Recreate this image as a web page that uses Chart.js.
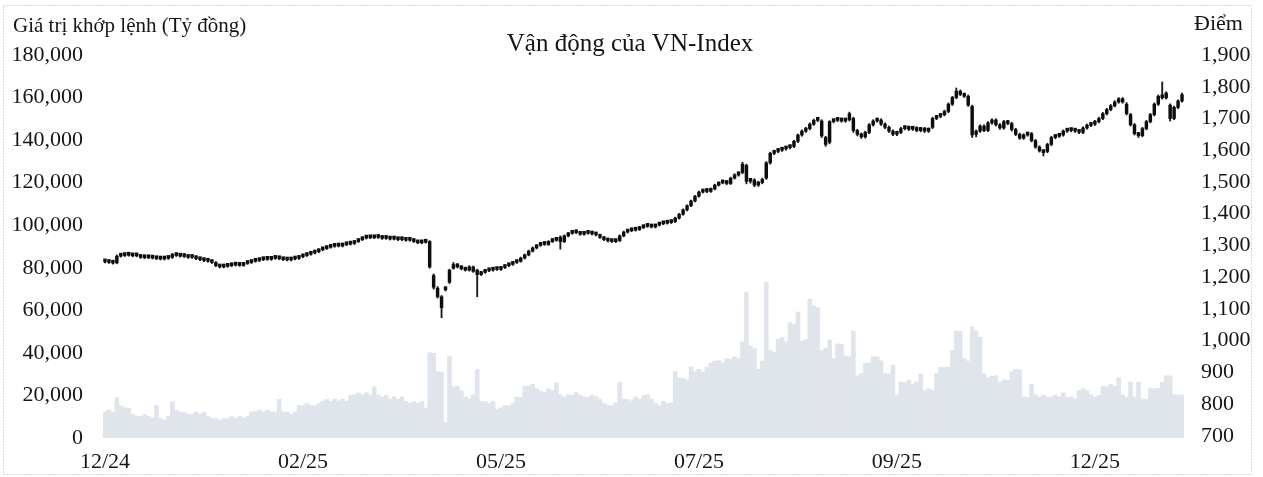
<!DOCTYPE html>
<html><head><meta charset="utf-8">
<script src="https://cdn.jsdelivr.net/npm/chart.js@4.4.1/dist/chart.umd.min.js"></script>
<style>html,body{margin:0;padding:0;background:#fff}#c{display:block}</style>
</head><body>
<canvas id="c" width="1263" height="477"></canvas>
<script>
const openP = [
1252,1248,1246,1245,1266,1268,1270,1269,1267,1268,
1262,1261,1263,1260,1258,1257,1259,1262,1272,1268,
1266,1265,1262,1264,1258,1255,1252,1250,1246,1236,
1232,1234,1236,1238,1240,1237,1243,1246,1250,1252,
1255,1258,1256,1259,1262,1258,1255,1254,1257,1259,
1264,1268,1272,1276,1280,1286,1290,1294,1297,1299,
1298,1302,1304,1306,1312,1318,1323,1326,1324,1328,
1325,1322,1324,1320,1322,1318,1320,1316,1318,1312,
1308,1310,1312,1205,1165,1138,1160,1184,1228,1240,
1232,1226,1222,1232,1222,1208,1215,1220,1222,1226,
1224,1230,1236,1240,1246,1250,1260,1270,1282,1292,
1300,1306,1303,1312,1318,1326,1312,1330,1338,1342,
1340,1335,1338,1340,1336,1333,1325,1318,1314,1312,
1315,1330,1342,1346,1348,1350,1356,1360,1362,1358,
1364,1368,1370,1372,1375,1386,1398,1412,1425,1440,
1455,1468,1474,1470,1478,1490,1497,1500,1495,1512,
1522,1530,1552,1502,1506,1490,1498,1512,1560,1590,
1596,1600,1604,1608,1612,1628,1648,1660,1668,1682,
1694,1692,1640,1625,1690,1694,1698,1692,1696,1700,
1662,1650,1642,1656,1680,1692,1695,1682,1672,1660,
1650,1656,1668,1672,1666,1670,1662,1668,1660,1672,
1700,1706,1712,1722,1745,1766,1786,1776,1770,1738,
1650,1660,1676,1662,1686,1695,1680,1670,1690,1684,
1665,1650,1638,1648,1652,1630,1610,1598,1596,1618,
1640,1644,1648,1660,1665,1662,1660,1656,1670,1678,
1682,1690,1700,1715,1728,1740,1752,1762,1745,1712,
1680,1652,1646,1668,1690,1712,1745,1770,1765,1742,
1700,1735,1755];
const highP = [
1255,1251,1249,1270,1271,1273,1273,1272,1271,1271,
1265,1266,1266,1263,1261,1262,1265,1275,1275,1271,
1269,1268,1267,1267,1261,1258,1255,1253,1249,1239,
1237,1239,1241,1243,1243,1246,1249,1253,1255,1258,
1261,1261,1262,1265,1265,1261,1258,1260,1262,1267,
1271,1275,1279,1283,1289,1293,1297,1300,1302,1302,
1305,1307,1309,1315,1321,1326,1329,1329,1331,1331,
1328,1327,1327,1325,1325,1323,1323,1321,1321,1315,
1313,1317,1315,1210,1170,1142,1170,1225,1246,1243,
1236,1230,1236,1235,1225,1218,1223,1225,1229,1229,
1233,1239,1243,1249,1253,1263,1273,1285,1295,1303,
1309,1309,1315,1321,1321,1330,1333,1341,1345,1345,
1343,1341,1343,1343,1339,1336,1328,1321,1317,1318,
1333,1345,1349,1351,1353,1359,1363,1365,1365,1367,
1371,1373,1375,1378,1389,1401,1415,1428,1443,1458,
1471,1477,1478,1481,1493,1500,1504,1504,1515,1526,
1532,1562,1556,1510,1510,1502,1512,1564,1594,1600,
1604,1608,1612,1616,1631,1651,1664,1672,1686,1698,
1704,1696,1644,1693,1698,1702,1701,1700,1720,1704,
1666,1654,1660,1684,1696,1699,1699,1686,1676,1664,
1660,1672,1676,1676,1674,1674,1672,1672,1670,1704,
1710,1716,1726,1749,1770,1796,1790,1780,1774,1742,
1664,1680,1680,1690,1699,1699,1684,1694,1694,1688,
1669,1654,1652,1656,1656,1634,1614,1602,1622,1644,
1648,1652,1664,1669,1669,1666,1664,1674,1682,1686,
1694,1704,1719,1732,1744,1756,1766,1766,1750,1716,
1684,1656,1672,1694,1716,1749,1774,1815,1784,1746,
1739,1759,1780];
const lowP = [
1245,1243,1241,1242,1263,1265,1266,1264,1264,1259,
1258,1258,1257,1255,1254,1254,1256,1259,1265,1263,
1262,1259,1259,1255,1252,1249,1247,1243,1233,1229,
1229,1231,1233,1235,1234,1234,1240,1243,1247,1249,
1252,1253,1253,1256,1255,1252,1251,1251,1254,1256,
1261,1265,1269,1273,1277,1283,1287,1291,1294,1295,
1295,1299,1301,1303,1309,1315,1320,1321,1321,1322,
1319,1319,1317,1317,1315,1315,1313,1313,1309,1305,
1305,1307,1228,1162,1134,1072,1156,1180,1225,1229,
1223,1219,1219,1215,1138,1205,1212,1217,1219,1221,
1221,1227,1233,1237,1243,1247,1257,1267,1279,1289,
1297,1300,1300,1309,1313,1288,1309,1327,1335,1337,
1332,1332,1335,1333,1330,1322,1315,1311,1309,1309,
1312,1327,1339,1343,1345,1347,1353,1357,1355,1355,
1361,1365,1367,1369,1372,1383,1395,1409,1422,1437,
1452,1465,1466,1467,1475,1487,1494,1491,1492,1509,
1518,1526,1494,1496,1485,1486,1494,1508,1556,1586,
1592,1596,1600,1604,1608,1624,1644,1656,1664,1678,
1690,1640,1612,1620,1686,1690,1688,1688,1692,1656,
1645,1637,1638,1652,1676,1688,1678,1668,1656,1646,
1646,1652,1664,1662,1662,1658,1658,1656,1656,1668,
1696,1702,1708,1718,1741,1762,1772,1766,1738,1640,
1642,1656,1658,1658,1682,1676,1666,1666,1680,1660,
1646,1634,1634,1644,1626,1606,1594,1582,1592,1614,
1636,1640,1644,1656,1658,1656,1652,1652,1666,1674,
1678,1686,1696,1711,1724,1736,1748,1748,1711,1676,
1648,1640,1642,1664,1686,1708,1741,1761,1761,1692,
1696,1731,1751];
const closeP = [
1248,1246,1244,1266,1268,1270,1269,1267,1268,1262,
1261,1263,1260,1258,1257,1259,1262,1272,1268,1266,
1265,1262,1264,1258,1255,1252,1250,1246,1236,1232,
1234,1236,1238,1240,1237,1243,1246,1250,1252,1255,
1258,1256,1259,1262,1258,1255,1254,1257,1259,1264,
1268,1272,1276,1280,1286,1290,1294,1297,1299,1298,
1302,1304,1306,1312,1318,1323,1326,1324,1328,1325,
1322,1324,1320,1322,1318,1320,1316,1318,1312,1308,
1310,1314,1232,1168,1138,1104,1166,1222,1240,1232,
1226,1222,1232,1218,1208,1215,1220,1222,1226,1224,
1230,1236,1240,1246,1250,1260,1270,1282,1292,1300,
1306,1303,1312,1318,1316,1312,1330,1338,1342,1340,
1335,1338,1340,1336,1333,1325,1318,1314,1312,1315,
1330,1342,1346,1348,1350,1356,1360,1362,1358,1364,
1368,1370,1372,1375,1386,1398,1412,1425,1440,1455,
1468,1474,1470,1478,1490,1497,1500,1495,1512,1522,
1528,1556,1502,1506,1490,1498,1508,1560,1590,1596,
1600,1604,1608,1612,1628,1648,1660,1668,1682,1694,
1700,1645,1618,1690,1694,1698,1692,1696,1715,1662,
1650,1642,1656,1680,1692,1695,1682,1672,1660,1650,
1656,1668,1672,1666,1670,1662,1668,1660,1666,1700,
1706,1712,1722,1745,1766,1786,1776,1770,1742,1648,
1660,1676,1662,1686,1695,1680,1670,1690,1684,1665,
1650,1638,1648,1652,1630,1610,1598,1592,1618,1640,
1644,1648,1660,1665,1662,1660,1656,1670,1678,1682,
1690,1700,1715,1728,1740,1752,1762,1752,1715,1680,
1652,1646,1668,1690,1712,1745,1770,1765,1780,1700,
1735,1755,1775];
const volume = [
12400,13100,12200,19000,15200,14300,14000,11200,10300,10100,
11000,10200,9400,15300,9100,8400,10200,17000,13100,12200,
12000,11300,11100,12200,11300,12100,10200,9300,9100,8400,
9200,9100,10100,9300,10200,9400,10300,12200,12400,13100,
12300,13200,12400,12100,18200,12300,12100,11200,12300,15400,
15200,16300,15400,15100,16200,17300,18100,17200,18300,17400,
18200,17300,20100,20300,21200,20400,21300,20200,24100,20300,
19200,20100,18300,19400,18200,19300,17200,16400,17100,16300,
17200,14100,40100,39800,31200,31000,7200,38300,24100,24300,
22200,19300,18400,20300,32200,17300,17100,16200,17300,13400,
14200,15300,15100,16200,19300,19100,24200,24400,25300,23200,
22100,21300,23200,22400,26100,20300,19200,20400,20100,21300,
20200,19300,19100,20200,19400,18300,16200,15300,15100,16400,
26200,18300,18100,17400,19200,18300,20100,20400,18200,16300,
15200,17300,16200,16400,31200,28300,28100,27300,33400,31200,
32300,31100,33200,35300,36100,36400,35200,37300,37100,38200,
37300,45200,68400,43200,42100,32300,36200,73200,41300,40200,
46300,47200,45300,54200,53300,59200,45400,46200,65300,62100,
61300,41200,42300,46100,37300,44200,44100,38300,38200,50300,
29200,30300,35100,35300,38200,38100,36300,30200,30100,34300,
20200,26300,26100,27300,25200,26400,30200,22300,23100,22400,
30300,33200,33100,33300,41200,50300,50100,37300,36200,52300,
50200,47300,30200,28300,29100,29300,26200,27300,27100,31300,
32200,32100,19300,19100,25200,20300,19200,20100,19300,19100,
20200,19300,21200,19100,19300,18200,22300,23100,22200,20300,
19200,20100,24300,24100,25200,24300,28300,20200,19100,26300,
19300,26200,18300,18100,23200,23100,23300,26200,29300,29200,
20300,20100,20200];
const tickIdx = [0, 50, 100, 150, 200, 250];
const tickLabels = ['12/24', '02/25', '05/25', '07/25', '09/25', '12/25'];
const leftTicks = [0, 20000, 40000, 60000, 80000, 100000, 120000, 140000, 160000, 180000];
const rightTicks = [700, 800, 900, 1000, 1100, 1200, 1300, 1400, 1500, 1600, 1700, 1800, 1900];
const categories = closeP.map((_, i) => 'P' + (i + 1));

const FONT = "'Liberation Serif', 'Times New Roman', serif";
const TXT = '#151515';
Chart.defaults.font.family = FONT;
Chart.defaults.color = TXT;

const textPlugin = {
  id: 'texts',
  beforeDraw(chart) {
    const ctx = chart.ctx;
    ctx.save();
    ctx.fillStyle = '#fff';
    ctx.fillRect(0, 0, chart.width, chart.height);
    ctx.restore();
  },
  afterDraw(chart) {
    const ctx = chart.ctx;
    ctx.save();
    ctx.strokeStyle = '#b4b4b4';
    ctx.lineWidth = 1;
    ctx.setLineDash([1, 2]);
    ctx.strokeRect(3.5, 5.5, 1248, 469);
    ctx.setLineDash([]);
    ctx.fillStyle = TXT;
    ctx.textBaseline = 'alphabetic';
    ctx.font = '25px ' + FONT;
    ctx.textAlign = 'center';
    ctx.fillText('Vận động của VN-Index', 630, 51);
    ctx.font = '21px ' + FONT;
    ctx.textAlign = 'left';
    ctx.fillText('Giá trị khớp lệnh (Tỷ đồng)', 13, 32);
    ctx.font = '22px ' + FONT;
    ctx.fillText('Điểm', 1194, 30);
    ctx.restore();
  }
};

new Chart(document.getElementById('c'), {
  type: 'bar',
  data: {
    labels: categories,
    datasets: [
      { label: 'Thân nến', data: openP.map((o, i) => [o, closeP[i]]), yAxisID: 'y1',
        backgroundColor: '#0d0d0d', barThickness: 2.8, minBarLength: 3, grouped: false, order: 0 },
      { label: 'Bóng nến', data: lowP.map((l, i) => [l, highP[i]]), yAxisID: 'y1',
        backgroundColor: '#1a1a1a', barThickness: 1.2, grouped: false, order: 1 },
      { label: 'Giá trị khớp lệnh', data: volume, yAxisID: 'y',
        backgroundColor: '#e0e4eb', barPercentage: 1, categoryPercentage: 1, grouped: false, order: 2 }
    ]
  },
  options: {
    responsive: false,
    animation: false,
    devicePixelRatio: 1,
    layout: { padding: { top: 55, left: 0, right: 0, bottom: 0 } },
    plugins: { legend: { display: false }, tooltip: { enabled: false }, title: { display: false } },
    scales: {
      x: {
        type: 'category', offset: true,
        grid: { display: false, drawTicks: false }, border: { display: false },
        ticks: { autoSkip: false, maxRotation: 0, minRotation: 0, padding: 11, color: TXT, font: { size: 22 },
          callback: function (v) { const k = tickIdx.indexOf(v); return k >= 0 ? tickLabels[k] : ''; } },
        afterBuildTicks: s => { s.ticks = tickIdx.map(v => ({ value: v })); },
        afterFit: s => { s.height = 39; }
      },
      y: {
        position: 'left', min: 0, max: 180000,
        grid: { display: false, drawTicks: false }, border: { display: false },
        ticks: { padding: 20, color: TXT, font: { size: 22 }, callback: v => v.toLocaleString('en-US') },
        afterBuildTicks: s => { s.ticks = leftTicks.map(v => ({ value: v })); },
        afterFit: s => { s.width = 103; }
      },
      y1: {
        position: 'right', min: 693, max: 1900,
        grid: { display: false, drawTicks: false }, border: { display: false },
        ticks: { padding: 17, color: TXT, font: { size: 22 }, callback: v => v.toLocaleString('en-US') },
        afterBuildTicks: s => { s.ticks = rightTicks.map(v => ({ value: v })); },
        afterFit: s => { s.width = 79; }
      }
    }
  },
  plugins: [textPlugin]
});
</script>
</body></html>
